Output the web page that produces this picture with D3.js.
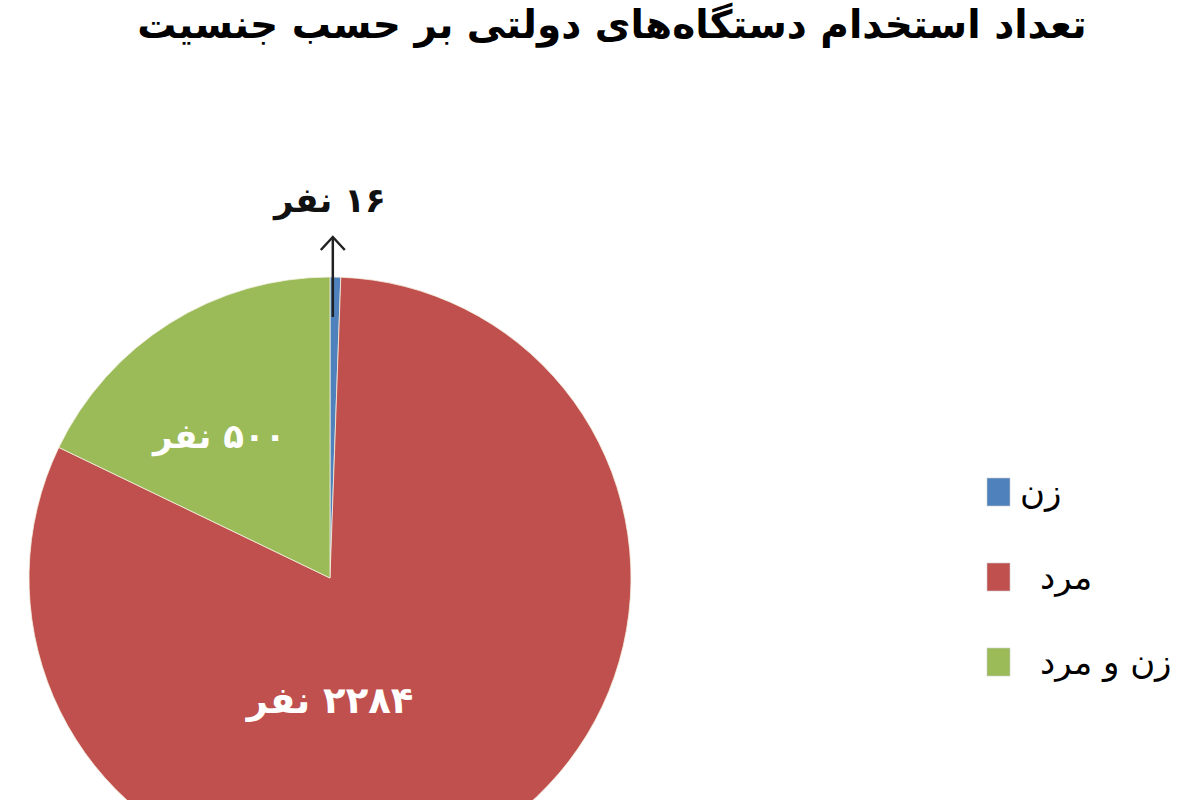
<!DOCTYPE html>
<html>
<head>
    <meta charset="utf-8">
    <title>تعداد استخدام دستگاه‌های دولتی بر حسب جنسیت</title>
    <script src="https://d3js.org/d3.v7.min.js"></script>
    <style>
        html, body {
            margin: 0;
            background: #fff;
            overflow: hidden;
        }
        text {
            font-family: "DejaVu Sans", sans-serif;
        }
    </style>
</head>
<body>
    <svg id="svg"></svg>
    <script>
        const titleText = "تعداد استخدام دستگاه‌های دولتی  بر حسب جنسیت";
        const categories = ["زن", "مرد", "زن و مرد"];
        const counts = [16, 2284, 500];
        const colors = ["#4F81BD", "#C0504D", "#9BBB59"];

        const width = 1200;
        const height = 800;
        const center = { x: 330, y: 578 };
        const radius = 301;

        const faDigits = "۰۱۲۳۴۵۶۷۸۹";
        const toFa = n => String(n).replace(/\d/g, d => faDigits[d]);
        const labelOf = n => toFa(n) + " نفر";

        const svg = d3.select("#svg")
            .attr("width", width)
            .attr("height", height);

        svg.append("text")
            .attr("x", 612)
            .attr("y", 38)
            .attr("direction", "rtl")
            .attr("text-anchor", "middle")
            .attr("font-size", 39)
            .attr("font-weight", "bold")
            .attr("fill", "#000")
            .text(titleText);

        const data = categories.map((c, i) => ({ name: c, value: counts[i], color: colors[i] }));

        const pie = d3.pie()
            .sort(null)
            .value(d => d.value);

        const arc = d3.arc()
            .innerRadius(0)
            .outerRadius(radius);

        const arcs = pie(data);

        const g = svg.append("g")
            .attr("transform", `translate(${center.x}, ${center.y})`);

        g.selectAll("path")
            .data(arcs)
            .enter()
            .append("path")
            .attr("d", arc)
            .attr("fill", d => d.data.color)
            .attr("stroke", "#f4f0e0")
            .attr("stroke-width", 0.8);

        // where each value label goes: [angle in degrees, distance from centre]
        const labelPlace = [null, [180, 122], [322, 180]];

        const polar = (deg, r) => {
            const a = deg * Math.PI / 180;
            return [r * Math.sin(a), -r * Math.cos(a)];
        };

        arcs.forEach((d, i) => {
            if (!labelPlace[i]) return;
            const [x, y] = polar(labelPlace[i][0], labelPlace[i][1]);
            g.append("text")
                .attr("x", x)
                .attr("y", y)
                .attr("dy", "0.35em")
                .attr("direction", "rtl")
                .attr("text-anchor", "middle")
                .attr("font-size", i === 1 ? 37 : 34)
                .attr("font-weight", "bold")
                .attr("fill", "#fff")
                .text(labelOf(d.data.value));
        });

        // the tiny slice gets an arrow pointing out to its label
        const small = arcs[0];
        const mid = (small.startAngle + small.endAngle) / 2 * 180 / Math.PI;
        const [x0, y0] = polar(mid * 0.6, radius - 40);
        const [x1, y1] = polar(0, radius + 40);
        const arrowX = x0;

        g.append("line")
            .attr("x1", arrowX)
            .attr("y1", y0)
            .attr("x2", arrowX)
            .attr("y2", y1)
            .attr("stroke", "#222")
            .attr("stroke-width", 2.5);

        g.append("path")
            .attr("d", `M${arrowX - 12},${y1 + 13} L${arrowX},${y1} L${arrowX + 12},${y1 + 13}`)
            .attr("fill", "none")
            .attr("stroke", "#222")
            .attr("stroke-width", 2.5);

        g.append("text")
            .attr("x", arrowX - 3)
            .attr("y", y1 - 37)
            .attr("dy", "0.35em")
            .attr("direction", "rtl")
            .attr("text-anchor", "middle")
            .attr("font-size", 34)
            .attr("font-weight", "bold")
            .attr("fill", "#111")
            .text(labelOf(small.data.value));

        // legend
        const legend = svg.append("g")
            .attr("transform", "translate(987, 478)");

        const item = legend.selectAll("g")
            .data(data)
            .enter()
            .append("g")
            .attr("transform", (d, i) => `translate(0, ${i * 85})`);

        item.append("rect")
            .attr("width", 23)
            .attr("height", 28)
            .attr("fill", d => d.color)
            .attr("stroke", "#ccc")
            .attr("stroke-width", 0.6);

        item.append("text")
            .attr("x", (d, i) => i === 0 ? 33 : 53)
            .attr("y", 14)
            .attr("dy", "0.35em")
            .attr("direction", "rtl")
            .attr("text-anchor", "end")
            .attr("font-size", 34)
            .attr("fill", "#000")
            .text(d => d.name);
    </script>
</body>
</html>
